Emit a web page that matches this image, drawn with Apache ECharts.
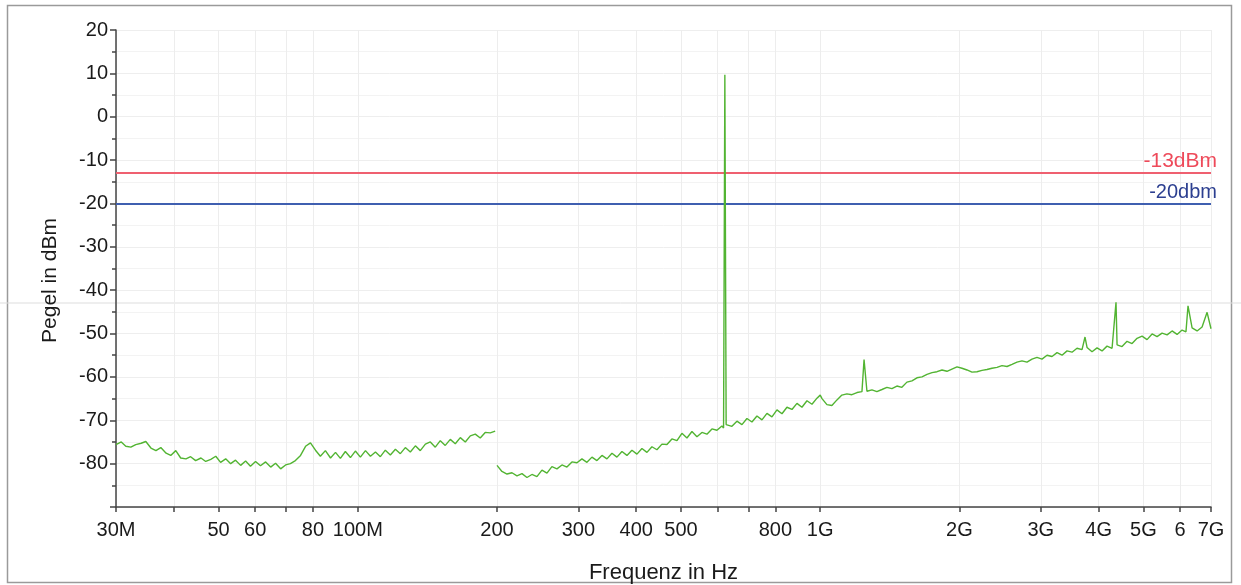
<!DOCTYPE html>
<html>
<head>
<meta charset="utf-8">
<script src="https://cdn.jsdelivr.net/npm/echarts@6/dist/echarts.min.js"></script>
<style>
html,body{margin:0;padding:0;background:#fff;}
#chart{width:1241px;height:585px;}
</style>
</head>
<body>
<div id="chart"></div>
<script>
// Frequencies in MHz, levels in dBm
var seg1Freq = [30,30.8,31.5,32.3,33.1,34,34.8,35.7,36.6,37.5,38.5,39.4,40.4,41.4,42.5,43.5,44.6,45.8,46.9,48.1,49.3,50.5,51.8,53.1,54.4,55.8,57.2,58.6,60.1,61.6,63.2,64.8,66.4,68.1,69.8,71.5,73.3,75.2,77.1,79,81,83,85.1,87.3,89.5,91.7,94,96.4,98.8,101.3,103.9,106.5,109.2,111.9,114.7,117.6,120.6,123.6,126.7,129.9,133.2,136.5,140,143.5,147.1,150.8,154.6,158.5,162.5,166.6,170.8,175.1,179.5,184,188.6,193.4,198.2];
var seg1Level = [-75.6,-75.0,-76.0,-76.2,-75.6,-75.3,-74.9,-76.4,-77.0,-76.3,-77.6,-78.1,-77.0,-78.7,-78.9,-78.4,-79.3,-78.7,-79.5,-79.0,-78.3,-79.7,-78.9,-80.0,-79.2,-80.4,-79.4,-80.6,-79.5,-80.5,-79.6,-80.8,-79.9,-81.2,-80.3,-80.0,-79.3,-78.1,-76.0,-75.2,-76.9,-78.3,-77.0,-78.7,-77.4,-78.8,-77.2,-78.6,-77.1,-78.5,-77.0,-78.3,-77.3,-78.4,-76.9,-78.0,-76.7,-77.7,-76.3,-77.3,-75.9,-77.0,-75.5,-75.0,-76.2,-74.7,-75.8,-74.4,-75.4,-74.0,-75.0,-73.6,-73.2,-74.1,-72.8,-72.9,-72.5];

var seg2Freq = [200,205,210.2,215.5,220.9,226.5,232.2,238,244,250.2,256.5,262.9,269.6,276.4,283.3,290.5,297.8,305.3,313,320.9,329,337.3,345.8,354.5,363.4,372.6,382,391.6,401.5,411.6,422,432.6,443.5,454.7,466.2,477.9,490,502.3,515,528,541.3,554.9,568.9,583.3,598,613,618,622,626,628.5,644.3,660.6,677.3,694.3,711.8,729.8,748.2,767.1,786.4,806.2,826.6,847.4,868.8,890.7,913.1,936.2,959.8,984,1000,1009,1034,1060,1087,1114,1142,1171,1201,1231,1244,1262,1294,1326,1360,1394,1429,1465,1502,1540,1579,1619,1660,1702,1745,1789,1834,1880,1927,1976,2026,2077,2129,2183,2238,2294,2352,2412,2472,2535,2599,2664,2731,2800,2871,2943,3017,3094,3172,3252,3334,3418,3504,3592,3683,3738,3776,3871,3969,4069,4171,4277,4362,4385,4495,4608,4725,4844,4966,5091,5220,5351,5486,5625,5767,5912,6061,6180,6243,6371,6532,6696,6865,7000];
var seg2Level = [-80.4,-81.8,-82.4,-82.1,-82.8,-82.3,-83.2,-82.5,-83.0,-81.5,-82.2,-80.7,-81.2,-80.3,-80.8,-79.6,-79.8,-78.9,-79.7,-78.5,-79.3,-78.1,-78.9,-77.6,-78.5,-77.2,-78.1,-76.9,-77.8,-76.5,-77.4,-76.1,-76.8,-75.5,-75.6,-74.3,-74.7,-73.0,-74.1,-72.6,-73.8,-72.8,-73.2,-72.0,-72.3,-71.3,-71.8,9.7,-71.0,-70.6,-71.4,-70.2,-71.0,-69.6,-70.4,-69.0,-69.9,-68.4,-69.2,-67.6,-68.5,-67.0,-67.5,-66.1,-67.0,-65.5,-66.3,-64.9,-64.2,-65.0,-66.4,-66.6,-65.3,-64.2,-63.9,-64.1,-63.6,-63.4,-56.0,-63.3,-63.0,-63.4,-62.9,-62.4,-62.7,-62.1,-62.4,-61.2,-60.9,-60.2,-60.0,-59.4,-59.0,-58.8,-58.4,-58.7,-58.2,-57.7,-58.0,-58.4,-58.9,-58.8,-58.5,-58.3,-58.0,-57.8,-57.4,-57.6,-57.1,-56.6,-56.3,-56.6,-55.9,-55.5,-55.9,-55.0,-55.3,-54.4,-55.0,-54.0,-54.3,-53.4,-53.7,-50.8,-53.2,-54.2,-53.3,-54.0,-52.9,-53.4,-42.8,-52.6,-53.0,-51.8,-52.3,-51.1,-50.6,-51.4,-50.1,-50.7,-49.9,-50.3,-49.4,-50.2,-49.2,-49.6,-43.6,-48.7,-49.4,-48.5,-45.1,-48.9];

var limitLevels = [-13, -20];
var limitLabels = ['-13dBm', '-20dbm'];

var xTickValues = [30,40,50,60,70,80,100,200,300,400,500,600,700,800,1000,2000,3000,4000,5000,6000,7000];
var xLabelValues = [30,50,60,80,100,200,300,400,500,800,1000,2000,3000,4000,5000,6000,7000];
var xLabelTexts = ['30M','50','60','80','100M','200','300','400','500','800','1G','2G','3G','4G','5G','6','7G'];

function pairs(xs, ys){ return xs.map(function(x,i){ return [x, ys[i]]; }); }

var chart = echarts.init(document.getElementById('chart'));
var FONT = '"Liberation Sans", Arial, sans-serif';
var traceColor = '#52b432';

chart.setOption({
  animation: false,
  backgroundColor: '#ffffff',
  grid: { left: 116, right: 30, top: 30, bottom: 78, containLabel: false, outerBoundsMode: 'none' },
  xAxis: {
    type: 'log', logBase: 10, min: 30, max: 7000,
    name: 'Frequenz in Hz', nameLocation: 'middle', nameGap: 55,
    nameTextStyle: { fontFamily: FONT, fontSize: 22, color: '#1a1a1a' },
    axisLine: { show: true, onZero: false, lineStyle: { color: '#444', width: 1.5 } },
    axisTick: { show: true, inside: false, length: 5, customValues: xTickValues, lineStyle: { color: '#444', width: 1.5 } },
    axisLabel: {
      customValues: xLabelValues,
      margin: 13, fontFamily: FONT, fontSize: 20, color: '#1a1a1a',
      formatter: function(v){
        for (var i = 0; i < xLabelValues.length; i++) {
          if (Math.abs(xLabelValues[i] - v) / v < 1e-6) return xLabelTexts[i];
        }
        return '';
      }
    },
    splitLine: { show: true, lineStyle: { color: '#ededed', width: 1 } },
    minorTick: { show: false }
  },
  yAxis: {
    type: 'value', min: -90, max: 20, interval: 10,
    name: 'Pegel in dBm', nameLocation: 'middle', nameGap: 55, nameRotate: 90,
    nameTextStyle: { fontFamily: FONT, fontSize: 21, color: '#1a1a1a', padding: [0, 24, 0, 0] },
    axisLine: { show: true, lineStyle: { color: '#444', width: 1.5 } },
    axisTick: { show: true, inside: false, length: 6, lineStyle: { color: '#444', width: 1.5 } },
    minorTick: { show: true, splitNumber: 2, length: 4, lineStyle: { color: '#444', width: 1.5 } },
    axisLabel: {
      margin: 8, fontFamily: FONT, fontSize: 20, color: '#1a1a1a',
      formatter: function(v){ return v === -90 ? '' : String(v); }
    },
    splitLine: { show: true, lineStyle: { color: '#eeeeee', width: 1 } },
    minorSplitLine: { show: true, lineStyle: { color: '#f3f3f3', width: 1 } }
  },
  graphic: [
    { type: 'rect', shape: { x: 7.5, y: 5.5, width: 1224, height: 577 }, style: { fill: 'none', stroke: '#9a9a9a', lineWidth: 1.5 }, silent: true, z: -1 },
    { type: 'line', shape: { x1: 0, y1: 303, x2: 1241, y2: 303 }, style: { stroke: '#dddddd', lineWidth: 1 }, silent: true, z: -1 }
  ],
  series: [
    {
      type: 'line', name: 'seg1', data: pairs(seg1Freq, seg1Level),
      showSymbol: false, symbol: 'none', lineStyle: { color: traceColor, width: 1.4 }, z: 5
    },
    {
      type: 'line', name: 'seg2', data: pairs(seg2Freq, seg2Level),
      showSymbol: false, symbol: 'none', lineStyle: { color: traceColor, width: 1.4 }, z: 5,
      markLine: {
        silent: true, symbol: ['none', 'none'],
        data: [
          { yAxis: limitLevels[0], lineStyle: { color: '#ef6070', width: 2, type: 'solid' },
            label: { show: true, position: 'insideEndTop', formatter: limitLabels[0], color: '#ee4a5a', fontFamily: FONT, fontSize: 21, distance: [-6, 1] } },
          { yAxis: limitLevels[1], lineStyle: { color: '#3f5fb0', width: 2, type: 'solid' },
            label: { show: true, position: 'insideEndTop', formatter: limitLabels[1], color: '#2c3f90', fontFamily: FONT, fontSize: 20, distance: [-6, 1] } }
        ]
      }
    }
  ]
});
</script>
</body>
</html>
